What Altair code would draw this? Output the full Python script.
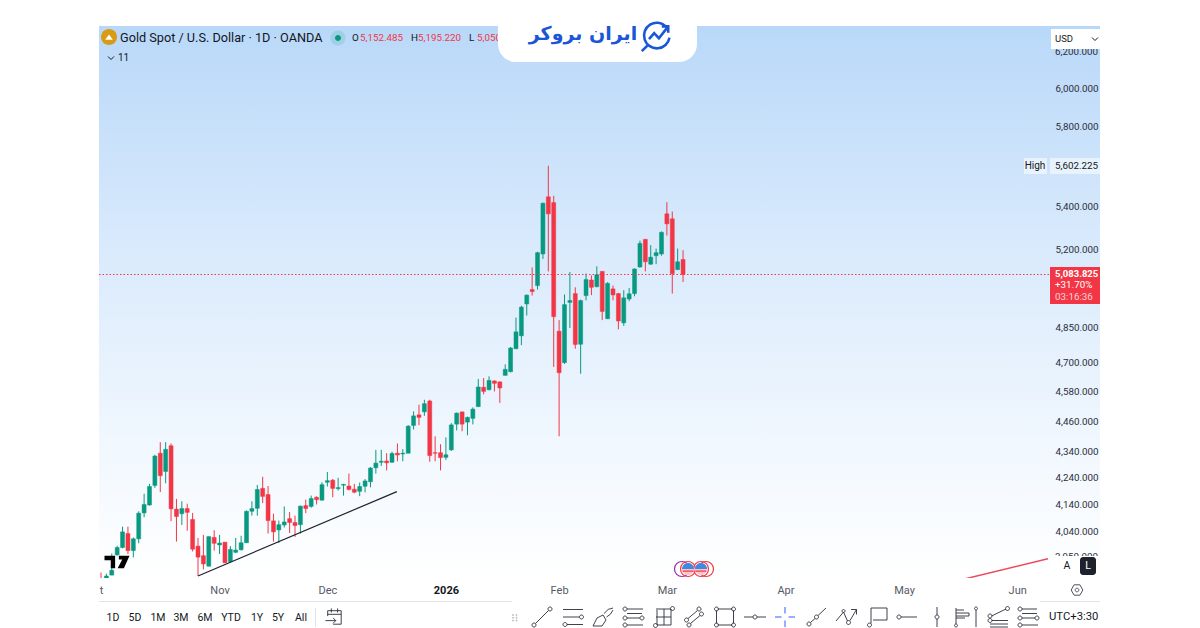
import json
import pandas as pd
import altair as alt

# ohlc, one candle per trading day from early Oct 2025
opens = [3872, 3870, 3887, 3958, 3984, 4034, 3973, 4015, 4109, 4138, 4211, 4334, 4264, 4363, 4123, 4106, 4125, 4085, 3989, 3955,
         3918, 4020, 3993, 4003, 3934, 3967, 3976, 4001, 4115, 4126, 4200, 4177, 4080, 4047, 4065, 4088, 4074, 4066, 4136, 4133,
         4167, 4156, 4223, 4231, 4199, 4212, 4209, 4197, 4189, 4208, 4225, 4278, 4299, 4304, 4299, 4334, 4331, 4334, 4443, 4485,
         4497, 4541, 4336, 4336, 4318, 4347, 4448, 4497, 4456, 4471, 4518, 4597, 4587, 4623, 4619, 4646, 4661, 4758, 4813, 4952,
         5016, 5034, 5178, 5449, 5421, 4833, 4699, 4959, 4998, 4777, 4989, 5059, 5029, 5098, 4887, 5019, 4998, 4869, 4974, 4998,
         5118, 5246, 5131, 5170, 5178, 5367, 5343, 5106, 5152.485]
highs = [3896, 3892, 3963, 3990, 4059, 4059, 4020, 4115, 4180, 4217, 4328, 4377, 4377, 4372, 4161, 4152, 4143, 4109, 4018, 4029,
         4023, 4046, 4029, 4003, 3989, 4018, 4026, 4118, 4152, 4213, 4244, 4209, 4106, 4081, 4133, 4112, 4099, 4136, 4158, 4173,
         4170, 4223, 4262, 4235, 4240, 4217, 4256, 4217, 4222, 4235, 4281, 4347, 4347, 4334, 4340, 4372, 4350, 4444, 4499, 4526,
         4546, 4546, 4400, 4369, 4396, 4452, 4494, 4497, 4478, 4515, 4631, 4635, 4642, 4625, 4621, 4692, 4765, 4892, 4944, 4994,
         5116, 5188, 5421, 5602.225, 5454, 4881, 4994, 5095, 5026, 4971, 5088, 5080, 5121, 5098, 5049, 5034, 5001, 5013, 5023, 5112,
         5240, 5246, 5219, 5203, 5283, 5423, 5378, 5203, 5195.22]
lows = [3868, 3870, 3887, 3955, 3981, 3961, 3949, 3999, 4093, 4136, 4202, 4186, 4219, 4079, 4005, 4065, 4044, 3970, 3884, 3907,
        3918, 3973, 3961, 3929, 3931, 3964, 3973, 4000, 4099, 4099, 4145, 4034, 4005, 4000, 4056, 4036, 4022, 4034, 4108, 4128,
        4140, 4155, 4207, 4167, 4192, 4173, 4192, 4182, 4171, 4185, 4204, 4256, 4285, 4268, 4298, 4303, 4303, 4334, 4427, 4444,
        4481, 4301, 4303, 4268, 4308, 4343, 4423, 4420, 4404, 4447, 4518, 4568, 4584, 4580, 4533, 4646, 4659, 4756, 4773, 4901,
        4989, 5016, 5155, 5098, 4681, 4400, 4694, 4847, 4758, 4653, 4968, 4991, 5026, 4881, 4886, 4968, 4841, 4856, 4964, 4986,
        5115, 5098, 5128, 5131, 5170, 5264, 4998, 5106, 5050]
closes = [3868, 3884, 3904, 3984, 4040, 3973, 4015, 4108, 4140, 4207, 4323, 4248, 4349, 4124, 4096, 4125, 4111, 3978, 3950, 3926,
          4023, 3999, 4000, 3930, 3977, 3975, 4001, 4115, 4125, 4196, 4170, 4081, 4040, 4066, 4076, 4074, 4063, 4134, 4125, 4162,
          4158, 4214, 4229, 4200, 4203, 4215, 4196, 4186, 4207, 4228, 4277, 4296, 4303, 4297, 4333, 4327, 4334, 4440, 4481, 4475,
          4530, 4325, 4334, 4317, 4328, 4445, 4492, 4448, 4475, 4508, 4598, 4580, 4625, 4613, 4594, 4671, 4761, 4830, 4938, 4991,
          5007, 5184, 5418, 5367, 4896, 4657, 4949, 4967, 4776, 4967, 5061, 5026, 5083, 4919, 5044, 4992, 4877, 4979, 4997, 5109,
          5227, 5142, 5163, 5184, 5279, 5319, 5088, 5142, 5083.825]

month_ticks = [0, 22, 42, 64, 85, 105, 127, 149, 170]
month_labels = ["t", "Nov", "Dec", "2026", "Feb", "Mar", "Apr", "May", "Jun"]
price_ticks = [6000, 5800, 5400, 5200, 4850, 4700, 4580, 4460, 4340, 4240, 4140, 4040]
cut_ticks = [6200, 3950]

trend_i = [18, 54.9]
trend_p = [3884, 4188]
red_i = [160.3, 175.7]
red_p = [3874, 3944]

periods = ["1D", "5D", "1M", "3M", "6M", "YTD", "1Y", "5Y", "All"]
period_x = [113, 135, 158, 181, 205, 231, 257, 278, 301]

GREEN = "#089981"
RED = "#f23645"
INK = "#131722"
FONT = "Roboto"
LEFT, TOP = 99, 26   # page pixel of the plot corner

candles = pd.DataFrame({"i": range(len(opens)), "open": opens, "high": highs, "low": lows, "close": closes})
candles["side"] = ["up" if c >= o else "down" for o, c in zip(opens, closes)]
one = pd.DataFrame({"a": [0]})

xscale = alt.Scale(domain=[-0.37, 175.9], nice=False, zero=False, padding=0)
yscale = alt.Scale(type="log", domain=[3877, 6347], nice=False, padding=0)
xaxis = alt.Axis(
    values=month_ticks,
    labelExpr=f"{json.dumps(month_labels)}[indexof({json.dumps(month_ticks)}, datum.value)]",
    title=None, grid=False, domain=False, ticks=False, labelPadding=6, labelFont=FONT, labelFontSize=11,
    labelColor=alt.expr("datum.value == 64 ? '#131722' : '#555a66'"),
    labelFontWeight=alt.expr("datum.value == 64 ? 'bold' : 'normal'"),
    labelOverlap=False, labelFlush=False, zindex=1
)
yaxis = alt.Axis(
    values=price_ticks, format=",.3f", orient="right", title=None, grid=False, domain=False, ticks=False,
    labelPadding=6, labelAlign="left", labelFont=FONT, labelFontSize=9.8, labelColor="#2a2e39",
    labelOverlap=False, zindex=1
)
X = alt.X("i:Q", scale=xscale, axis=xaxis)


def Y(field):
    return alt.Y(field, type="quantitative", scale=yscale, axis=yaxis)


def box(x1, y1, x2, y2, color, **kw):
    return alt.Chart(one).mark_rect(color=color, **kw).encode(
        x=alt.value(x1 - LEFT), x2=alt.value(x2 - LEFT), y=alt.value(y1 - TOP), y2=alt.value(y2 - TOP))


def txt(text, x, y, color=INK, size=9.8, align="left", font=FONT, weight="normal"):
    return alt.Chart(one).mark_text(text=text, color=color, fontSize=size, align=align, font=font,
                                    fontWeight=weight, baseline="middle").encode(
        x=alt.value(x - LEFT), y=alt.value(y - TOP))


def icon(path, x, y, px=20, color=INK, width=1, fill=False, opacity=1):
    return alt.Chart(one).mark_point(shape=path, size=px * px, filled=fill, opacity=opacity,
                                     color=color, strokeWidth=width).encode(
        x=alt.value(x - LEFT), y=alt.value(y - TOP))


def c(x, y, r=0.2):
    return f"M{x - r},{y}a{r},{r} 0 1,0 {2 * r},0a{r},{r} 0 1,0 {-2 * r},0"


layers = []
layers.append(box(99, 26, 1100, 578, alt.Gradient(
    gradient="linear", x1=0, x2=0, y1=0, y2=1,
    stops=[alt.GradientStop(color="#b9d8f9", offset=0), alt.GradientStop(color="#d9eafc", offset=0.4),
           alt.GradientStop(color="#f0f7fe", offset=0.75), alt.GradientStop(color="#ffffff", offset=1)])))

# chart content
color = alt.Color("side:N", scale=alt.Scale(domain=["up", "down"], range=[GREEN, RED]), legend=None)
layers.append(alt.Chart(candles).mark_rule(strokeWidth=1, clip=True).encode(x=X, y=Y("low"), y2=alt.Y2("high"), color=color))
layers.append(alt.Chart(candles).mark_bar(size=4, orient="vertical", clip=True, strokeWidth=0.5).encode(
    x=X, y=Y("open"), y2=alt.Y2("close"), color=color, stroke=color))
layers.append(alt.Chart(pd.DataFrame({"i": [-0.37, 175.9], "p": [closes[-1], closes[-1]]})).mark_line(
    color=RED, strokeDash=[1.5, 2], strokeWidth=1.1).encode(x=X, y=Y("p")))
layers.append(alt.Chart(pd.DataFrame({"i": trend_i, "p": trend_p})).mark_line(color="#1e222d", strokeWidth=1.2, clip=True).encode(x=X, y=Y("p")))
layers.append(alt.Chart(pd.DataFrame({"i": red_i, "p": red_p})).mark_line(color="#ee4a5c", strokeWidth=1.5, clip=True).encode(x=X, y=Y("p")))

# price scale items
layers.append(alt.Chart(pd.DataFrame({"p": cut_ticks, "t": ["6,200.000", "3,950.000"]})).mark_text(
    align="left", baseline="middle", font=FONT, fontSize=9.8, color="#2a2e39").encode(
    x=alt.value(1055 - LEFT), y=Y("p"), text="t:N"))
layers.append(box(1050, 556, 1100, 578, "#ffffff"))
layers.append(box(1051, 29, 1100, 49, "#ffffff"))
layers.append(txt("USD", 1055, 39, size=9.5))
layers.append(icon("M-1,-0.5L0,0.5L1,-0.5", 1095, 39, px=6))
layers.append(box(1024, 158, 1047, 174, "#ffffff", opacity=0.55))
layers.append(box(1050, 158, 1100, 174, "#ffffff", opacity=0.55))
layers.append(txt("High", 1035, 166, align="center", size=10))
layers.append(txt("5,602.225", 1055, 166))
layers.append(box(1050, 267, 1100, 304, RED))
layers.append(txt("5,083.825", 1055, 274, color="#ffffff", size=9.5, weight="bold"))
layers.append(txt("+31.70%", 1055, 285, color="#ffffff", size=9.8))
layers.append(txt("03:16:36", 1055, 297, color="#fbd3d8", size=9.8))

# header
layers.append(icon(c(0, 0, 1), 109, 37, px=16, color="#d99a14", fill=True))
layers.append(icon("M-0.55,0.4L0,-0.35L0.55,0.4Z", 109, 37, px=14, color="#ffffff", fill=True))
layers.append(txt("Gold Spot / U.S. Dollar · 1D · OANDA", 120, 38, size=12.7))
layers.append(icon(c(0, 0, 1), 338, 38, px=15, color=GREEN, fill=True, opacity=0.15))
layers.append(icon(c(0, 0, 1), 338, 38, px=6, color=GREEN, fill=True))
for lab, lab_x, val, val_x in [("O", 352, "5,152.485", 360), ("H", 411, "5,195.220", 418), ("L", 469, "5,050", 477)]:
    layers.append(txt(lab, lab_x, 38))
    layers.append(txt(val, val_x, 38, color=RED))
layers.append(icon("M-1,-0.5L0,0.5L1,-0.5", 111, 58, px=6))
layers.append(txt("11", 118, 58, size=10))

# logo panel
layers.append(box(498, 26, 697, 62, "#ffffff", cornerRadiusBottomLeft=18, cornerRadiusBottomRight=18))
layers.append(txt("ایران بروکر", 583, 34, color="#1a56d6", size=19, align="center", font="DejaVu Sans", weight="bold"))
layers.append(icon("M0.55,-0.6A0.8,0.8 0 1,0 0.78,0.1M-0.55,0.55L-0.95,0.95", 657, 36, px=32, color="#1a56d6", width=2.6))
layers.append(icon("M-0.5,0.2L-0.18,-0.18L0.12,0.14L0.7,-0.6M0.3,-0.6L0.7,-0.6L0.7,-0.2", 657, 36, px=32, color="#1a56d6", width=2.6))

# tradingview mark
layers.append(icon("M-1,-0.5H-0.15V0.5H-0.5V-0.15H-1ZM0.15,-0.5H1L0.55,0.5H0.05L0.42,-0.2H0.15Z", 117, 562, px=25, color="#000000", fill=True))

# event flags on the time scale
for fx, ring in [(682, "#9c27b0"), (688, RED), (701, RED), (706, RED)]:
    layers.append(icon(c(0, 0, 1), fx, 569, px=15, color=ring, width=1.2))
for fx in [688, 701]:
    layers.append(icon(c(0, 0, 1), fx, 569, px=12, color="#f6c6cc", fill=True))
    layers.append(icon("M-1,0A1,1 0 0,1 1,0Z", fx, 569, px=12, color="#3d8ae0", fill=True))
    layers.append(icon("M-0.9,0.35H0.9", fx, 569, px=12, color=RED, width=1.2))

# buttons next to the time scale
layers.append(box(1059, 557, 1075, 575, "#ffffff"))
layers.append(txt("A", 1067, 566, align="center", size=10.5))
layers.append(box(1080, 557, 1096, 575, "#1e222d", cornerRadius=3))
layers.append(txt("L", 1088, 566, color="#ffffff", align="center", size=10.5))
layers.append(icon("M-0.9,0L-0.45,-0.8H0.45L0.9,0L0.45,0.8H-0.45Z" + c(0, 0, 0.28), 1077, 590, px=13, color="#50535e"))

# bottom bar
layers.append(box(99, 601, 512, 602, "#e0e3eb"))
layers.append(box(1040, 601, 1100, 602, "#e0e3eb"))
for lab, px in zip(periods, period_x):
    layers.append(txt(lab, px, 618, align="center", size=10.5))
layers.append(box(315, 608, 316, 627, "#e0e3eb"))
layers.append(icon("M-0.7,-0.1V-0.7H0.8V0.8H-0.1M-0.7,-0.3H0.8M-0.3,-0.95V-0.5M0.4,-0.95V-0.5M-0.95,0.4H0.2M-0.1,0.1L0.2,0.4L-0.1,0.7", 334, 617, px=18, color="#2a2e39", width=0.9))
layers.append(icon(c(-1, -1, 0.08) + c(-1, -0.6, 0.08) + c(-1, -0.2, 0.08) + c(-0.5, -1, 0.08) + c(-0.5, -0.6, 0.08) + c(-0.5, -0.2, 0.08), 520, 622, px=14, color="#b2b5be"))

tools = [
    (542, c(-0.8, 0.8) + c(0.8, -0.8) + "M-0.65,0.65L0.65,-0.65"),
    (573, "M-1,-0.75H1M-1,0H0.65" + c(0.85, 0) + "M-0.6,0.75H1" + c(-0.8, 0.75)),
    (603, "M-1,0.9L-0.6,0.1L0,-0.2L0.3,0.3L-0.1,0.9ZM0.1,-0.35Q0.5,-0.9 1,-0.9M0.35,0Q0.8,-0.2 1,-0.7"),
    (633, c(-0.8, -0.8) + "M-0.6,-0.8H1M-0.6,-0.35H0.9" + c(-0.8, 0.1) + "M-0.6,0.1H0.7" + c(0.9, 0.1) + c(-0.8, 0.8) + "M-0.6,0.8H1"),
    (664, "M-0.8,-0.8H0.7V0.8H-0.7V-0.7M-0.8,0H0.7M0,-0.8V0.8" + c(-0.85, 0.85) + c(0.85, -0.85)),
    (694, c(-0.75, 0.3) + c(0.5, -0.8) + "M-0.6,0.15L0.35,-0.65" + c(-0.5, 0.8) + c(0.75, -0.3) + "M-0.35,0.65L0.6,-0.15"),
    (725, "M-0.75,-0.8H0.75M-0.75,0.8H0.75M-0.85,-0.65V0.65M0.85,-0.65V0.65" + c(-0.85, -0.8) + c(0.85, -0.8) + c(-0.85, 0.8) + c(0.85, 0.8)),
    (755, "M-1.1,0H-0.2M0.2,0H1.1" + c(0, 0)),
    (816, c(-0.7, 0.7) + c(0.05, 0) + "M-0.55,0.55L-0.1,0.15M0.2,-0.15L1,-0.9"),
    (847, "M-1.1,0.4L-0.35,-0.5L0.05,0.4M0.3,0.35L0.95,-0.75M0.4,-0.75H0.95V-0.25" + c(-0.35, -0.6, 0.15) + c(0.15, 0.55, 0.2)),
    (878, "M-0.7,0.65V-0.9H0.9V0.3H-0.5" + c(-0.85, 0.8)),
    (907, c(-0.8, 0) + "M-0.6,0H1"),
    (937, "M0,-1V-0.2M0,0.2V1" + c(0, 0)),
    (963, "M-0.7,0.7V-0.9M-0.7,-0.7H0.1M-0.7,-0.4H0.6V-0.1H-0.7M-0.7,0.1H0.2" + c(-0.7, 0.85, 0.15)),
    (976, "M0,-0.7V1" + c(0, -0.85, 0.15)),
    (998, "M-0.65,-0.1L0.8,-0.8" + c(-0.8, -0.1) + c(0.95, -0.85) + c(-0.8, 0.35) + "M-0.6,0.35H1M-0.8,0.7H1M-0.8,1H1"),
    (1028, c(-0.8, -0.8) + "M-0.6,-0.8H0.9M-0.6,-0.35H0.9" + c(-0.8, 0.1) + "M-0.6,0.1H0.7" + c(0.9, 0.1) + c(-0.8, 0.8) + "M-0.6,0.8H1"),
]
for px, path in tools:
    layers.append(icon(path, px, 617, color="#2a2e39", width=0.9))
layers.append(icon("M-1,0H-0.35M0.35,0H1M0,-1V-0.35M0,0.35V1", 785, 617, color="#2962ff"))
layers.append(txt("UTC+3:30", 1049, 617, size=11.3))

chart = alt.layer(*layers).properties(
    width=950,
    height=552,
    autosize="none",
    padding={"left": 91, "top": 18, "right": 143, "bottom": 50},
    background="#ffffff"
).configure_view(stroke=None)

chart.save("out.html", embed_options={"renderer": "svg", "actions": False})
